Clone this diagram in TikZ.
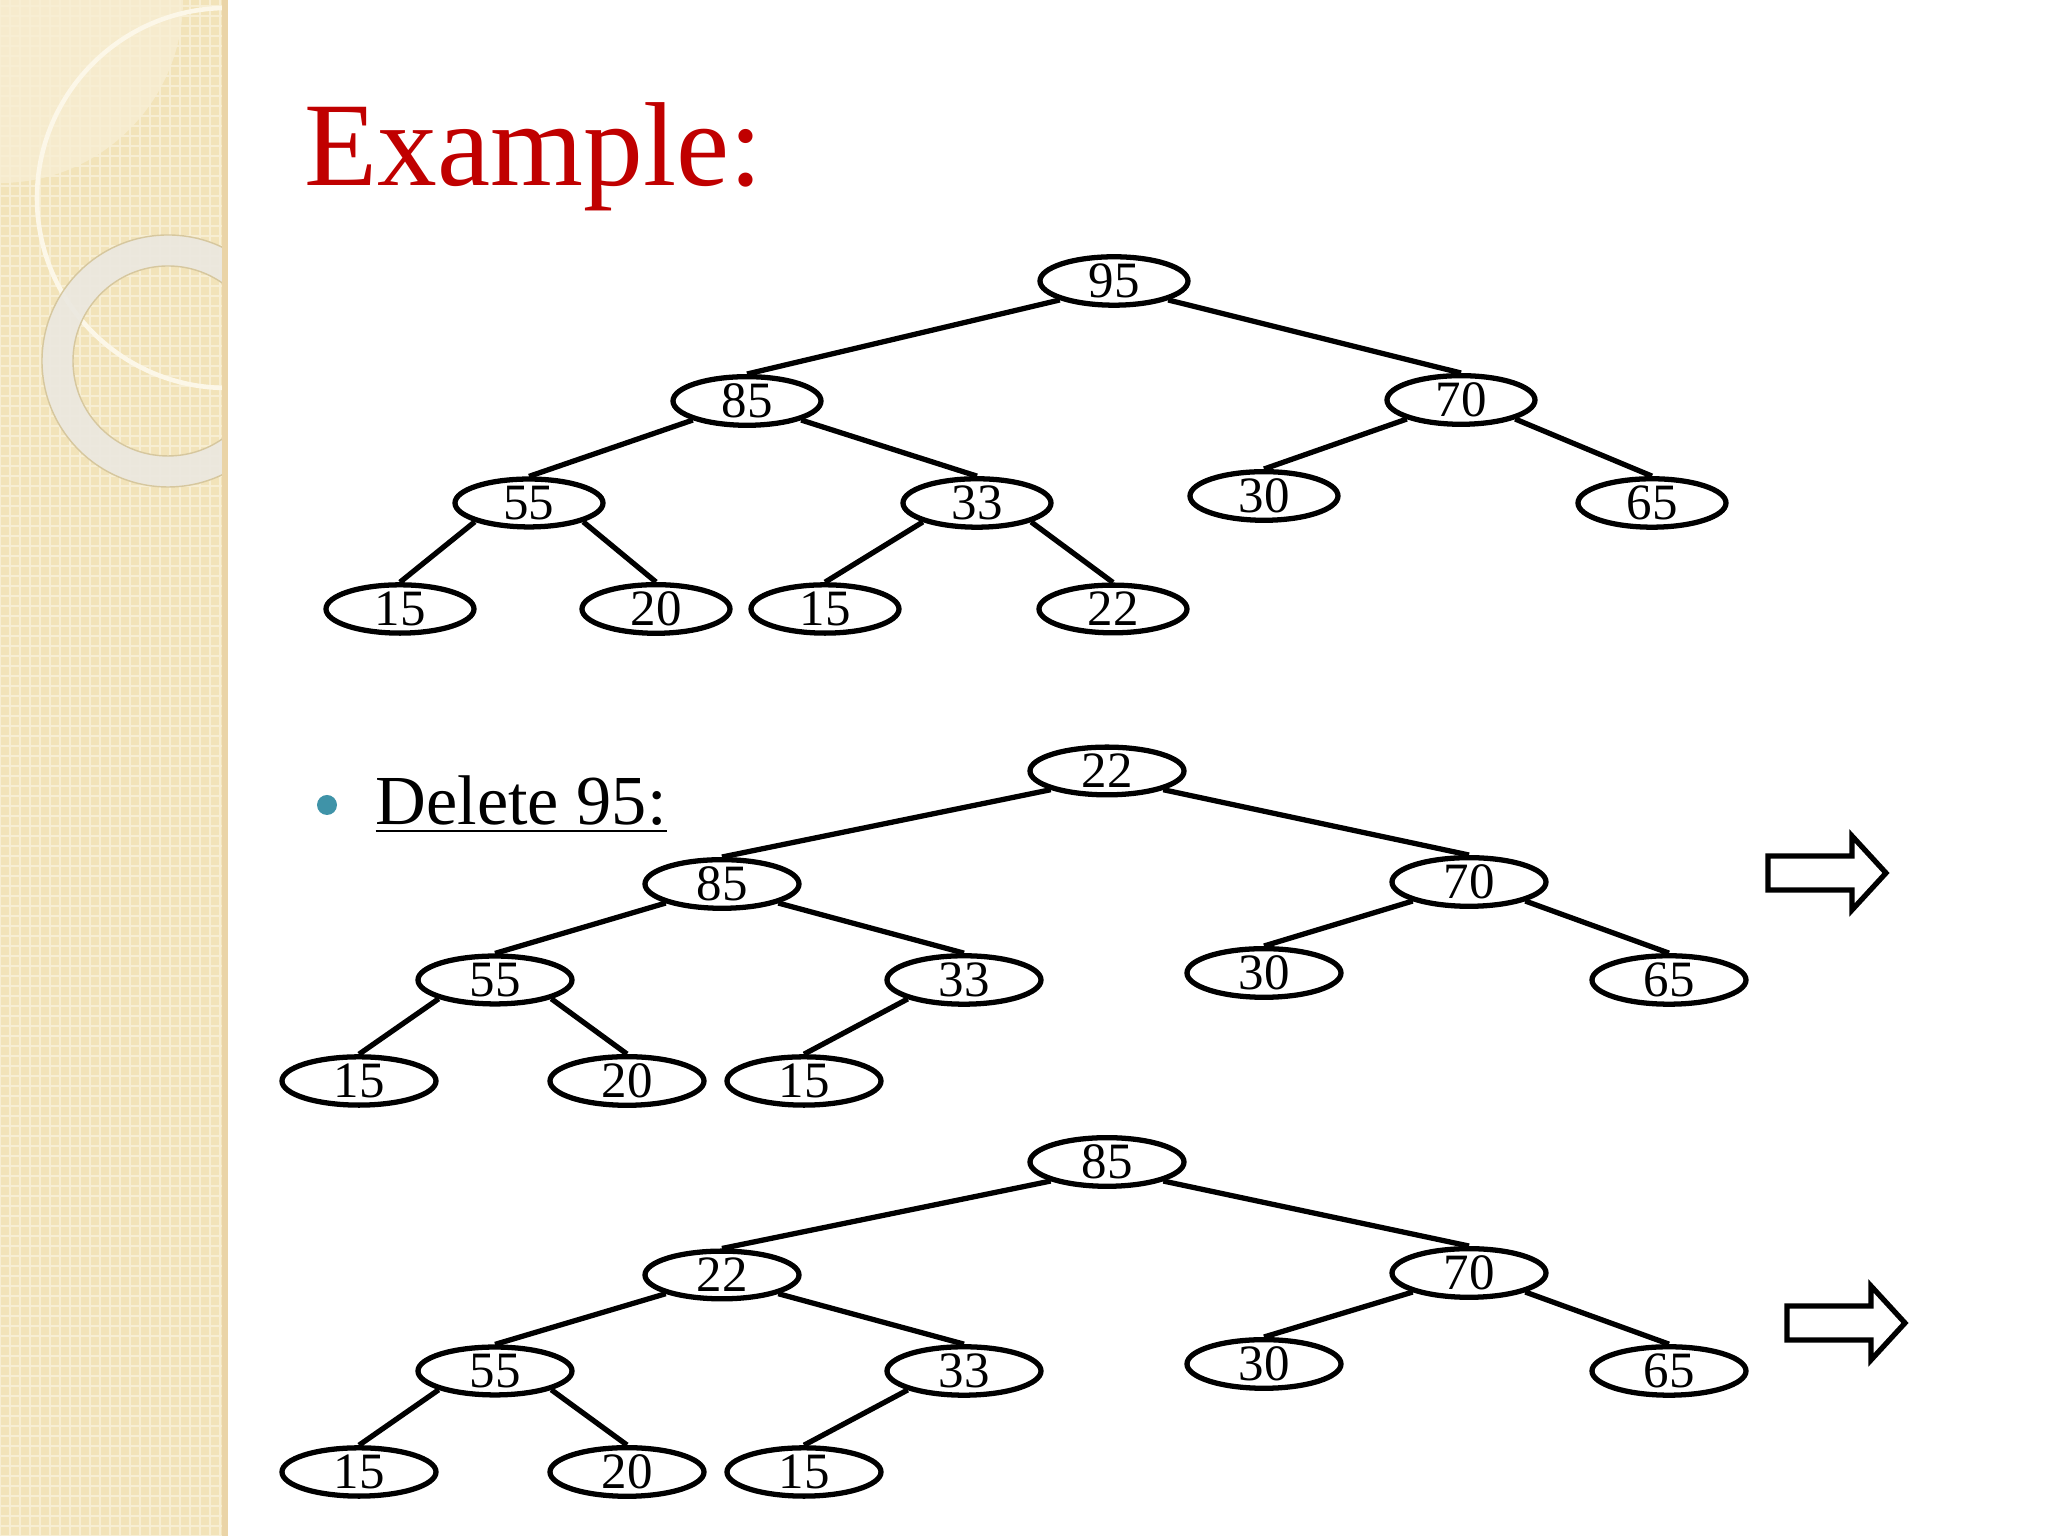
\documentclass[tikz,border=0pt]{standalone}
\usepackage{fontspec}
\setmainfont{Liberation Serif}
\usetikzlibrary{shapes.geometric}
\definecolor{titlered}{HTML}{C00000}
\definecolor{bullteal}{HTML}{3F93A8}
\definecolor{panel}{HTML}{F2E3B9}
\definecolor{panelhi}{HTML}{F7EED3}
\definecolor{ringc}{HTML}{EBE8E0}
\definecolor{ringedge}{HTML}{D6C79E}
\definecolor{ringthin}{HTML}{FCF7E8}
\tikzset{hn/.style={ellipse,draw=black,line width=1.5pt,fill=white,inner sep=0pt,minimum width=1.54cm,minimum height=0.46cm,font=\fontsize{14.5}{14.5}\selectfont},
  hl/.style={line width=1.5pt}}
% lower two trees share one layout: #1 prefix, #2 root, #3 left child
\newcommand{\lowtree}[3]{%
  \node[hn] (#1root) at (11.07,7.65) {#2};
  \node[hn] (#1l) at (7.22,6.52) {#3};
  \node[hn] (#1r) at (14.69,6.54) {70};
  \node[hn] (#1ll) at (4.95,5.56) {55};
  \node[hn] (#1lr) at (9.64,5.56) {33};
  \node[hn] (#1rl) at (12.64,5.63) {30};
  \node[hn] (#1rr) at (16.69,5.56) {65};
  \node[hn] (#1lll) at (3.59,4.55) {15};
  \node[hn] (#1llr) at (6.27,4.55) {20};
  \node[hn] (#1lrl) at (8.04,4.55) {15};
  \foreach \p/\c in {root/l,l/ll,r/rl,ll/lll,lr/lrl}
    \draw[hl] (#1\p.south west) -- (#1\c.north);
  \foreach \p/\c in {root/r,l/lr,r/rr,ll/llr}
    \draw[hl] (#1\p.south east) -- (#1\c.north);}

\begin{document}
\begin{tikzpicture}
\useasboundingbox (0,0) rectangle (20.48,15.36);
% side panel
\fill[panel] (0,0) rectangle (2.27,15.36);
\draw[panelhi,line width=0.6pt,step=0.1] (0,0) grid (2.27,15.36);
\begin{scope}
\clip (0,0) rectangle (2.27,15.36);
\fill[panelhi,opacity=0.8] (0,15.36) -- (1.83,15.36) arc (0:-90:1.83) -- cycle;
\draw[ringthin,line width=1.3pt] (2.27,13.38) circle (1.90);
\draw[ringc,opacity=0.9,line width=0.31cm] (1.68,11.75) circle (1.105);
\draw[ringedge,line width=0.4pt] (1.68,11.75) circle (1.26) (1.68,11.75) circle (0.95);
\end{scope}
\draw[panel!85!brown,line width=1.5pt] (2.25,0) -- (2.25,15.36);

\node[anchor=base west,inner sep=0pt,text=titlered,font=\fontsize{34}{34}\selectfont] (title) at (3.04,13.50) {Example:};

% first heap
\begin{scope}[hn/.append style={minimum width=1.48cm}]
\node[hn] (a95) at (11.14,12.55) {95};
\node[hn] (a85) at (7.47,11.35) {85};
\node[hn] (a70) at (14.61,11.36) {70};
\node[hn] (a55) at (5.29,10.33) {55};
\node[hn] (a33) at (9.77,10.33) {33};
\node[hn] (a30) at (12.64,10.40) {30};
\node[hn] (a65) at (16.52,10.33) {65};
\node[hn] (a15) at (4.00,9.27) {15};
\node[hn] (a20) at (6.56,9.27) {20};
\node[hn] (a15b) at (8.25,9.27) {15};
\node[hn] (a22) at (11.13,9.27) {22};
\foreach \p/\c in {a95/a85,a85/a55,a70/a30,a55/a15,a33/a15b}
  \draw[hl] (\p.south west) -- (\c.north);
\foreach \p/\c in {a95/a70,a85/a33,a70/a65,a55/a20,a33/a22}
  \draw[hl] (\p.south east) -- (\c.north);
\end{scope}

\fill[bullteal] (3.27,7.31) circle (0.1);
\node[anchor=base west,inner sep=0pt,font=\fontsize{20}{20}\selectfont] (del) at (3.75,7.11) {\underline{Delete 95:}};

\lowtree{b}{22}{85}
\begin{scope}[yshift=-3.91cm]
\lowtree{c}{85}{22}
\end{scope}

% step arrows
\foreach \ax/\ay in {17.68/6.63,17.87/2.13}
  \draw[line width=1.5pt,fill=white] (\ax,\ay-0.17) -- ++(0.84,0) -- ++(0,-0.20) -- (\ax+1.18,\ay) -- (\ax+0.84,\ay+0.37) -- ++(0,-0.20) -- (\ax,\ay+0.17) -- cycle;
\end{tikzpicture}
\end{document}
